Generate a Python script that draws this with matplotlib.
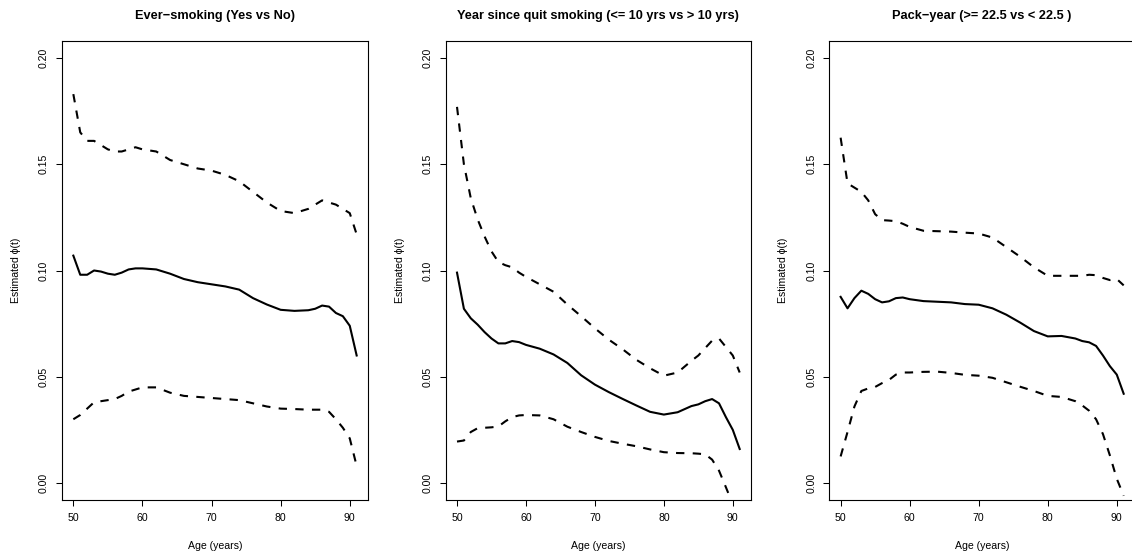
import numpy as np
import matplotlib
matplotlib.use("Agg")
import matplotlib.pyplot as plt

plt.rcParams['font.family'] = ['Liberation Sans', 'DejaVu Sans']

# ages
age = [50, 51, 52, 53, 54, 55, 56, 57, 58, 59, 60,
       62, 64, 66, 68, 70, 72, 74, 76, 78, 80, 82, 84,
       85, 86, 87, 88, 89, 90, 91]

# Ever-smoking
ever_est = [0.107, 0.098, 0.098, 0.100, 0.0995, 0.0985, 0.098, 0.099, 0.1005, 0.101, 0.101,
            0.1005, 0.0985, 0.096, 0.0945, 0.0935, 0.0925, 0.091, 0.087, 0.084, 0.0815, 0.081, 0.0813,
            0.082, 0.0835, 0.083, 0.080, 0.0785, 0.074, 0.060]
ever_up = [0.183, 0.165, 0.161, 0.161, 0.159, 0.157, 0.156, 0.156, 0.157, 0.158, 0.157,
           0.156, 0.152, 0.150, 0.148, 0.147, 0.145, 0.142, 0.137, 0.132, 0.128, 0.127, 0.129,
           0.131, 0.133, 0.132, 0.131, 0.129, 0.127, 0.117]
ever_lo = [0.030, 0.032, 0.035, 0.038, 0.0385, 0.039, 0.0395, 0.041, 0.043, 0.044, 0.045,
           0.045, 0.0425, 0.041, 0.0405, 0.040, 0.0395, 0.039, 0.0375, 0.036, 0.035, 0.0348, 0.0345,
           0.0345, 0.0345, 0.0335, 0.030, 0.026, 0.021, 0.008]

# Year since quit smoking
quit_est = [0.099, 0.082, 0.0775, 0.0745, 0.071, 0.068, 0.0657, 0.0657, 0.0668, 0.0663, 0.065,
            0.0632, 0.0605, 0.0565, 0.0507, 0.0463, 0.0428, 0.0396, 0.0365, 0.0335, 0.0322, 0.0333, 0.0362,
            0.037, 0.0385, 0.0395, 0.0375, 0.031, 0.025, 0.016]
quit_up = [0.177, 0.150, 0.134, 0.124, 0.116, 0.109, 0.104, 0.1025, 0.1015, 0.099, 0.097,
           0.0935, 0.090, 0.084, 0.0785, 0.0728, 0.0675, 0.063, 0.058, 0.054, 0.0505, 0.052, 0.0575,
           0.060, 0.0635, 0.067, 0.068, 0.064, 0.060, 0.052]
quit_lo = [0.0195, 0.020, 0.024, 0.0258, 0.026, 0.0262, 0.0266, 0.029, 0.031, 0.0318, 0.032,
           0.0318, 0.030, 0.0265, 0.024, 0.0217, 0.0198, 0.0185, 0.0173, 0.0158, 0.0145, 0.0141, 0.014,
           0.0138, 0.0135, 0.011, 0.0058, -0.002, -0.010, -0.025]

# Pack-year
pack_est = [0.0876, 0.0822, 0.087, 0.0905, 0.089, 0.0865, 0.085, 0.0855, 0.087, 0.0873, 0.0865,
            0.0856, 0.0853, 0.085, 0.0842, 0.0839, 0.0822, 0.0792, 0.0755, 0.0715, 0.069, 0.0692, 0.068,
            0.0668, 0.0662, 0.0645, 0.060, 0.055, 0.051, 0.042]
pack_up = [0.1625, 0.141, 0.139, 0.137, 0.133, 0.1265, 0.1237, 0.1235, 0.1232, 0.122, 0.1205,
           0.1187, 0.1185, 0.1183, 0.1178, 0.1174, 0.1155, 0.111, 0.1065, 0.1015, 0.0975, 0.0975, 0.0975,
           0.0975, 0.098, 0.0978, 0.0965, 0.0955, 0.096, 0.093]
pack_lo = [0.0125, 0.024, 0.036, 0.0433, 0.0445, 0.0452, 0.047, 0.0485, 0.051, 0.052, 0.052,
           0.0523, 0.0524, 0.0518, 0.0509, 0.0505, 0.0495, 0.0474, 0.0453, 0.0433, 0.041, 0.0405, 0.0385,
           0.0365, 0.034, 0.030, 0.023, 0.013, 0.002, -0.006]

titles = ["Ever\u2212smoking (Yes vs No)",
          "Year since quit smoking (<= 10 yrs vs > 10 yrs)",
          "Pack\u2212year (>= 22.5 vs < 22.5 )"]
panels = [(ever_est, ever_up, ever_lo),
          (quit_est, quit_up, quit_lo),
          (pack_est, pack_up, pack_lo)]

W, H = 1132, 556
fig = plt.figure(figsize=(W / 100, H / 100), dpi=100)

# axes boxes in pixels (left, top, right, bottom) - last one runs past the edge
boxes = [(62, 41, 368, 500), (445.7, 41, 751, 500), (829.3, 41, 1135, 500)]

for (l, t, r, b), title, (est, up, lo) in zip(boxes, titles, panels):
    ax = fig.add_axes([l / W, (H - b) / H, (r - l) / W, (b - t) / H])
    ax.plot(age, est, color='black', lw=1.5, solid_joinstyle='round')
    ax.plot(age, up, color='black', lw=1.5, dashes=(4, 4))
    ax.plot(age, lo, color='black', lw=1.5, dashes=(4, 4))

    # R style 4% padding
    ax.set_xlim(50 - 0.04 * 41, 91 + 0.04 * 41)
    ax.set_ylim(-0.008, 0.208)
    ax.set_xticks([50, 60, 70, 80, 90])
    ax.set_yticks([0.0, 0.05, 0.10, 0.15, 0.20])
    ax.set_yticklabels(["0.00", "0.05", "0.10", "0.15", "0.20"], rotation=90, va='center')

    ax.tick_params(direction='out', length=4.3, width=0.75, color='black',
                   labelsize=7.6, pad=5)
    for s in ax.spines.values():
        s.set_linewidth(0.8)
        s.set_color('black')

    ax.set_xlabel("Age (years)", fontsize=7.6, va='center')
    ax.xaxis.set_label_coords(0.5, -(545.7 - b) / (b - t))
    ax.set_ylabel("Estimated \u03d5(t)", fontsize=7.6, va='center')
    ax.yaxis.set_label_coords(-46 / (r - l), 0.5)
    ax.set_title(title, fontsize=9.2, fontweight='bold', va='center',
                 y=1 + (t - 16) / (b - t), pad=0)

fig.savefig("out.png", dpi=100)
plt.close(fig)
